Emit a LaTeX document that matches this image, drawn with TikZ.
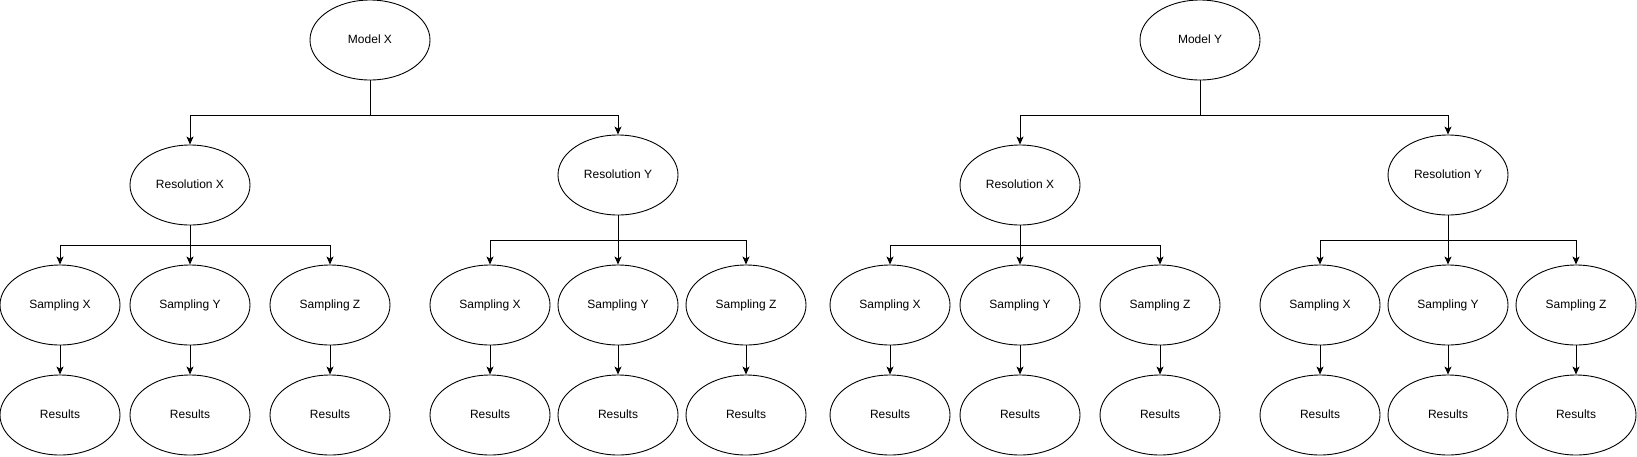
\documentclass[tikz,border=0pt]{standalone}
\usepackage{fontspec}
\setmainfont{Liberation Sans}
\usetikzlibrary{shapes.geometric,arrows.meta}
\newcommand{\lift}[1]{\raisebox{2pt}{#1}}
\begin{document}
\begin{tikzpicture}[x=1pt,y=-1pt,
  ell/.style={draw,ellipse,line width=0.9pt,minimum width=120pt,minimum height=80pt,inner sep=0pt,font=\fontsize{12}{14}\selectfont},
  arr/.style={draw,line width=0.9pt,-{Stealth[length=8pt,width=7pt,inset=2pt]}},
  ln/.style={draw,line width=0.9pt}]
\useasboundingbox (0,0) rectangle (1637,456);
% Tree 1
\node[ell] (mx) at (370,40) {\lift{Model X}};
\node[ell] (r1) at (190,185) {\lift{Resolution X}};
\node[ell] (r2) at (618,175) {\lift{Resolution Y}};
\node[ell] (s11) at (60,305) {\lift{Sampling X}};
\node[ell] (s12) at (190,305) {\lift{Sampling Y}};
\node[ell] (s13) at (330,305) {\lift{Sampling Z}};
\node[ell] (s21) at (490,305) {\lift{Sampling X}};
\node[ell] (s22) at (618,305) {\lift{Sampling Y}};
\node[ell] (s23) at (746,305) {\lift{Sampling Z}};
\node[ell] (e11) at (60,415) {\lift{Results}};
\node[ell] (e12) at (190,415) {\lift{Results}};
\node[ell] (e13) at (330,415) {\lift{Results}};
\node[ell] (e21) at (490,415) {\lift{Results}};
\node[ell] (e22) at (618,415) {\lift{Results}};
\node[ell] (e23) at (746,415) {\lift{Results}};
% Tree 2
\node[ell] (my) at (1200,40) {\lift{Model Y}};
\node[ell] (r3) at (1020,185) {\lift{Resolution X}};
\node[ell] (r4) at (1448,175) {\lift{Resolution Y}};
\node[ell] (s31) at (890,305) {\lift{Sampling X}};
\node[ell] (s32) at (1020,305) {\lift{Sampling Y}};
\node[ell] (s33) at (1160,305) {\lift{Sampling Z}};
\node[ell] (s41) at (1320,305) {\lift{Sampling X}};
\node[ell] (s42) at (1448,305) {\lift{Sampling Y}};
\node[ell] (s43) at (1576,305) {\lift{Sampling Z}};
\node[ell] (e31) at (890,415) {\lift{Results}};
\node[ell] (e32) at (1020,415) {\lift{Results}};
\node[ell] (e33) at (1160,415) {\lift{Results}};
\node[ell] (e41) at (1320,415) {\lift{Results}};
\node[ell] (e42) at (1448,415) {\lift{Results}};
\node[ell] (e43) at (1576,415) {\lift{Results}};
% connectors model -> resolution
\foreach \m/\a/\b in {mx/r1/r2, my/r3/r4}{
  \draw[arr] (\m.south) -- (\m.south |- 0,115) -| (\a.north);
  \draw[arr] (\m.south) -- (\m.south |- 0,115) -| (\b.north);
}
% resolution -> sampling
\foreach \r/\y/\a/\b/\c in {r1/245/s11/s12/s13, r2/240/s21/s22/s23, r3/245/s31/s32/s33, r4/240/s41/s42/s43}{
  \draw[arr] (\r.south) -- (\r.south |- 0,\y) -| (\a.north);
  \draw[arr] (\r.south) -- (\b.north);
  \draw[arr] (\r.south) -- (\r.south |- 0,\y) -| (\c.north);
}
% sampling -> results
\foreach \i in {11,12,13,21,22,23,31,32,33,41,42,43}{
  \draw[arr] (s\i.south) -- (e\i.north);
}
\end{tikzpicture}
\end{document}
